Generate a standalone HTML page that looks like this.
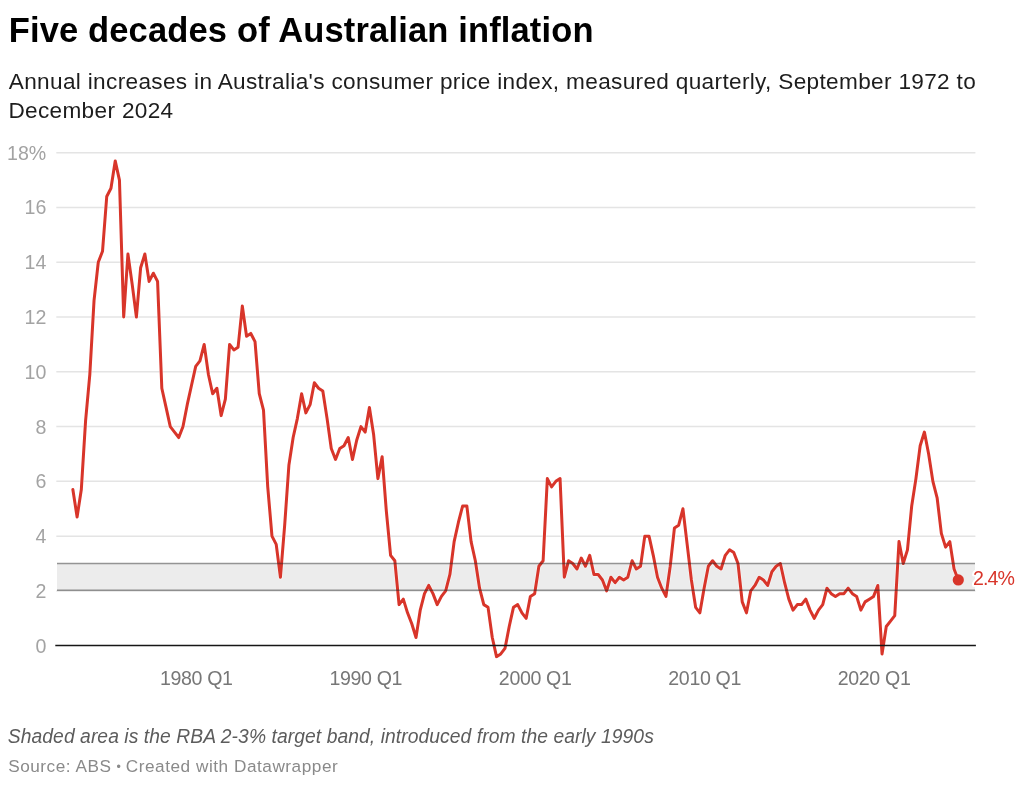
<!DOCTYPE html>
<html lang="en"><head><meta charset="utf-8"><title>Five decades of Australian inflation</title>
<style>
html,body{margin:0;padding:0;background:#fff;}
body{width:1024px;height:786px;position:relative;overflow:hidden;font-family:"Liberation Sans",Arial,sans-serif;}
.t{position:absolute;white-space:nowrap;margin:0;line-height:1;}
h1.t{left:8.7px;top:13.0px;font-size:34.5px;font-weight:bold;color:#000;letter-spacing:0.15px;}
.d{font-size:22.6px;color:#1d1d1d;font-weight:normal;letter-spacing:0.333px;}
#d1{left:8.8px;top:70.7px;}
#d2{left:8.4px;top:99.5px;}
#n{left:7.8px;top:727px;font-size:19.3px;font-style:italic;color:#5c5c5c;letter-spacing:0.066px;}
#s{left:8.2px;top:757.8px;font-size:17.2px;color:#8a8a8a;letter-spacing:0.53px;}
.bu{font-size:0.72em;vertical-align:0.1em;letter-spacing:0;margin:0 -0.3px;}
svg{position:absolute;left:0;top:0;}
svg text{font-family:"Liberation Sans",Arial,sans-serif;font-size:19.6px;}
.yt{fill:#a3a3a3;}
.xt{fill:#777;letter-spacing:-0.35px;}
</style></head><body>
<h1 class="t">Five decades of Australian inflation</h1>
<p class="t d" id="d1">Annual increases in Australia's consumer price index, measured quarterly, September 1972 to</p>
<p class="t d" id="d2">December 2024</p>
<svg width="1024" height="786" viewBox="0 0 1024 786">
<g shape-rendering="auto">
<line x1="56.3" x2="975.4" y1="590.92" y2="590.92" stroke="#e4e4e4" stroke-width="1.5"/>
<line x1="56.3" x2="975.4" y1="536.14" y2="536.14" stroke="#e4e4e4" stroke-width="1.5"/>
<line x1="56.3" x2="975.4" y1="481.36" y2="481.36" stroke="#e4e4e4" stroke-width="1.5"/>
<line x1="56.3" x2="975.4" y1="426.58" y2="426.58" stroke="#e4e4e4" stroke-width="1.5"/>
<line x1="56.3" x2="975.4" y1="371.80" y2="371.80" stroke="#e4e4e4" stroke-width="1.5"/>
<line x1="56.3" x2="975.4" y1="317.02" y2="317.02" stroke="#e4e4e4" stroke-width="1.5"/>
<line x1="56.3" x2="975.4" y1="262.24" y2="262.24" stroke="#e4e4e4" stroke-width="1.5"/>
<line x1="56.3" x2="975.4" y1="207.46" y2="207.46" stroke="#e4e4e4" stroke-width="1.5"/>
<line x1="56.3" x2="975.4" y1="152.68" y2="152.68" stroke="#e4e4e4" stroke-width="1.5"/>

<rect x="57" y="563.45" width="918.00" height="26.8" fill="#ececec"/>
</g>
<text x="46.3" y="652.70" text-anchor="end" class="yt">0</text>
<text x="46.3" y="597.92" text-anchor="end" class="yt">2</text>
<text x="46.3" y="543.14" text-anchor="end" class="yt">4</text>
<text x="46.3" y="488.36" text-anchor="end" class="yt">6</text>
<text x="46.3" y="433.58" text-anchor="end" class="yt">8</text>
<text x="46.3" y="378.80" text-anchor="end" class="yt">10</text>
<text x="46.3" y="324.02" text-anchor="end" class="yt">12</text>
<text x="46.3" y="269.24" text-anchor="end" class="yt">14</text>
<text x="46.3" y="214.46" text-anchor="end" class="yt">16</text>
<text x="46.3" y="159.68" text-anchor="end" class="yt">18%</text>

<text x="196.30" y="685.1" text-anchor="middle" class="xt">1980 Q1</text>
<text x="365.75" y="685.1" text-anchor="middle" class="xt">1990 Q1</text>
<text x="535.20" y="685.1" text-anchor="middle" class="xt">2000 Q1</text>
<text x="704.65" y="685.1" text-anchor="middle" class="xt">2010 Q1</text>
<text x="874.10" y="685.1" text-anchor="middle" class="xt">2020 Q1</text>

<polyline points="72.85,489.58 77.09,516.97 81.32,489.58 85.56,421.10 89.80,374.54 94.03,300.59 98.27,262.24 102.51,251.28 106.74,196.50 110.98,188.29 115.22,160.90 119.45,180.07 123.69,317.02 127.93,254.02 132.16,284.15 136.40,317.02 140.64,267.72 144.87,254.02 149.11,281.41 153.35,273.20 157.58,281.41 161.82,388.23 166.06,407.41 170.29,426.58 174.53,432.06 178.76,437.54 183.00,426.58 187.24,404.67 191.47,385.50 195.71,366.32 199.95,360.84 204.18,344.41 208.42,374.54 212.66,393.71 216.89,388.23 221.13,415.62 225.37,399.19 229.60,344.41 233.84,349.89 238.08,347.15 242.31,306.06 246.55,336.19 250.79,333.45 255.02,341.67 259.26,393.71 263.50,410.15 267.73,486.84 271.97,536.14 276.21,544.36 280.44,577.23 284.68,525.18 288.92,464.93 293.15,437.54 297.39,418.36 301.63,393.71 305.86,412.89 310.10,404.67 314.34,382.76 318.57,388.23 322.81,390.97 327.05,418.36 331.28,448.49 335.52,459.45 339.76,448.49 343.99,445.75 348.23,437.54 352.47,459.45 356.70,440.28 360.94,426.58 365.18,432.06 369.41,407.41 373.65,434.80 377.89,478.62 382.12,456.71 386.36,511.49 390.60,555.31 394.83,560.79 399.07,604.62 403.30,599.14 407.54,612.83 411.78,623.79 416.01,637.48 420.25,610.09 424.49,593.66 428.72,585.44 432.96,593.66 437.20,604.62 441.43,596.40 445.67,590.92 449.91,574.49 454.14,541.62 458.38,522.45 462.62,506.01 466.85,506.01 471.09,541.62 475.33,560.79 479.56,588.18 483.80,604.62 488.04,607.35 492.27,637.48 496.51,656.66 500.75,653.92 504.98,648.44 509.22,626.53 513.46,607.35 517.69,604.62 521.93,612.83 526.17,618.31 530.40,596.40 534.64,593.66 538.88,566.27 543.11,560.79 547.35,478.62 551.59,486.84 555.82,481.36 560.06,478.62 564.30,577.23 568.53,560.79 572.77,563.53 577.01,569.01 581.24,558.05 585.48,566.27 589.72,555.31 593.95,574.49 598.19,574.49 602.43,579.96 606.66,590.92 610.90,577.23 615.13,582.70 619.37,577.23 623.61,579.96 627.84,577.23 632.08,560.79 636.32,569.01 640.55,566.27 644.79,536.14 649.03,536.14 653.26,555.31 657.50,577.23 661.74,588.18 665.97,596.40 670.21,566.27 674.45,527.92 678.68,525.18 682.92,508.75 687.16,544.36 691.39,579.96 695.63,607.35 699.87,612.83 704.10,588.18 708.34,566.27 712.58,560.79 716.81,566.27 721.05,569.01 725.29,555.31 729.52,549.84 733.76,552.57 738.00,563.53 742.23,601.88 746.47,612.83 750.71,590.92 754.94,585.44 759.18,577.23 763.42,579.96 767.65,585.44 771.89,571.75 776.13,566.27 780.36,563.53 784.60,582.70 788.84,599.14 793.07,610.09 797.31,604.62 801.55,604.62 805.78,599.14 810.02,610.09 814.25,618.31 818.49,610.09 822.73,604.62 826.96,588.18 831.20,593.66 835.44,596.40 839.67,593.66 843.91,593.66 848.15,588.18 852.38,593.66 856.62,596.40 860.86,610.09 865.09,601.88 869.33,599.14 873.57,596.40 877.80,585.44 882.04,653.92 886.28,626.53 890.51,621.05 894.75,615.57 898.99,541.62 903.22,563.53 907.46,549.84 911.70,506.01 915.93,478.62 920.17,445.75 924.41,432.06 928.64,453.97 932.88,481.36 937.12,497.79 941.35,533.40 945.59,547.10 949.83,541.62 954.06,569.01 958.30,579.96" fill="none" stroke="#fff" stroke-opacity="0.5" stroke-width="4.4" stroke-linejoin="round" stroke-linecap="round"/>
<polyline points="72.85,489.58 77.09,516.97 81.32,489.58 85.56,421.10 89.80,374.54 94.03,300.59 98.27,262.24 102.51,251.28 106.74,196.50 110.98,188.29 115.22,160.90 119.45,180.07 123.69,317.02 127.93,254.02 132.16,284.15 136.40,317.02 140.64,267.72 144.87,254.02 149.11,281.41 153.35,273.20 157.58,281.41 161.82,388.23 166.06,407.41 170.29,426.58 174.53,432.06 178.76,437.54 183.00,426.58 187.24,404.67 191.47,385.50 195.71,366.32 199.95,360.84 204.18,344.41 208.42,374.54 212.66,393.71 216.89,388.23 221.13,415.62 225.37,399.19 229.60,344.41 233.84,349.89 238.08,347.15 242.31,306.06 246.55,336.19 250.79,333.45 255.02,341.67 259.26,393.71 263.50,410.15 267.73,486.84 271.97,536.14 276.21,544.36 280.44,577.23 284.68,525.18 288.92,464.93 293.15,437.54 297.39,418.36 301.63,393.71 305.86,412.89 310.10,404.67 314.34,382.76 318.57,388.23 322.81,390.97 327.05,418.36 331.28,448.49 335.52,459.45 339.76,448.49 343.99,445.75 348.23,437.54 352.47,459.45 356.70,440.28 360.94,426.58 365.18,432.06 369.41,407.41 373.65,434.80 377.89,478.62 382.12,456.71 386.36,511.49 390.60,555.31 394.83,560.79 399.07,604.62 403.30,599.14 407.54,612.83 411.78,623.79 416.01,637.48 420.25,610.09 424.49,593.66 428.72,585.44 432.96,593.66 437.20,604.62 441.43,596.40 445.67,590.92 449.91,574.49 454.14,541.62 458.38,522.45 462.62,506.01 466.85,506.01 471.09,541.62 475.33,560.79 479.56,588.18 483.80,604.62 488.04,607.35 492.27,637.48 496.51,656.66 500.75,653.92 504.98,648.44 509.22,626.53 513.46,607.35 517.69,604.62 521.93,612.83 526.17,618.31 530.40,596.40 534.64,593.66 538.88,566.27 543.11,560.79 547.35,478.62 551.59,486.84 555.82,481.36 560.06,478.62 564.30,577.23 568.53,560.79 572.77,563.53 577.01,569.01 581.24,558.05 585.48,566.27 589.72,555.31 593.95,574.49 598.19,574.49 602.43,579.96 606.66,590.92 610.90,577.23 615.13,582.70 619.37,577.23 623.61,579.96 627.84,577.23 632.08,560.79 636.32,569.01 640.55,566.27 644.79,536.14 649.03,536.14 653.26,555.31 657.50,577.23 661.74,588.18 665.97,596.40 670.21,566.27 674.45,527.92 678.68,525.18 682.92,508.75 687.16,544.36 691.39,579.96 695.63,607.35 699.87,612.83 704.10,588.18 708.34,566.27 712.58,560.79 716.81,566.27 721.05,569.01 725.29,555.31 729.52,549.84 733.76,552.57 738.00,563.53 742.23,601.88 746.47,612.83 750.71,590.92 754.94,585.44 759.18,577.23 763.42,579.96 767.65,585.44 771.89,571.75 776.13,566.27 780.36,563.53 784.60,582.70 788.84,599.14 793.07,610.09 797.31,604.62 801.55,604.62 805.78,599.14 810.02,610.09 814.25,618.31 818.49,610.09 822.73,604.62 826.96,588.18 831.20,593.66 835.44,596.40 839.67,593.66 843.91,593.66 848.15,588.18 852.38,593.66 856.62,596.40 860.86,610.09 865.09,601.88 869.33,599.14 873.57,596.40 877.80,585.44 882.04,653.92 886.28,626.53 890.51,621.05 894.75,615.57 898.99,541.62 903.22,563.53 907.46,549.84 911.70,506.01 915.93,478.62 920.17,445.75 924.41,432.06 928.64,453.97 932.88,481.36 937.12,497.79 941.35,533.40 945.59,547.10 949.83,541.62 954.06,569.01 958.30,579.96" fill="none" stroke="#d8352a" stroke-width="3" stroke-linejoin="round" stroke-linecap="round"/>
<line x1="57" x2="975.0" y1="563.45" y2="563.45" stroke="#282828" stroke-opacity="0.47" stroke-width="1.5"/>
<line x1="57" x2="975.0" y1="590.3" y2="590.3" stroke="#282828" stroke-opacity="0.47" stroke-width="1.5"/>
<line x1="55.3" x2="975.9" y1="645.55" y2="645.55" stroke="#161616" stroke-width="1.6"/>
<circle cx="958.30" cy="579.96" r="5.6" fill="#d8352a"/>
<text x="973" y="585.1" fill="#d8352a" stroke="#fff" stroke-width="4" stroke-linejoin="round" paint-order="stroke" style="font-size:19.6px;letter-spacing:-0.95px">2.4%</text>
</svg>
<p class="t" id="n">Shaded area is the RBA 2-3% target band, introduced from the early 1990s</p>
<p class="t" id="s">Source: ABS <span class="bu">•</span> Created with Datawrapper</p>
</body></html>
